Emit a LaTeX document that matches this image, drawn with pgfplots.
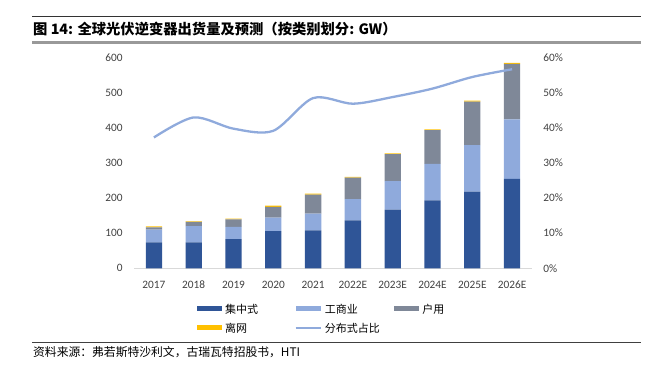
\documentclass[border=0pt]{standalone}
\usepackage{pgfplots}
\pgfplotsset{compat=1.18}
\usepackage{fontspec}
\setmainfont{Carlito}
\newfontfamily\cjk{Noto Sans CJK SC}
\definecolor{cA}{HTML}{2F5597}
\definecolor{cB}{HTML}{8FAADC}
\definecolor{cC}{HTML}{7F8898}
\definecolor{cD}{HTML}{FFC000}
\definecolor{tk}{HTML}{404040}
\definecolor{bl}{HTML}{D9D9D9}
\pgfplotsset{
  barleg/.style={legend image code/.code={\fill[##1, draw=none] (0pt,-2.7pt) rectangle (25pt,2.7pt);}},
  lineleg/.style={legend image code/.code={\draw[##1] (0pt,0pt) -- (25pt,0pt);}},
}
\newcommand\lgd[1]{\makebox[69.5pt][l]{\cjk\fontsize{11}{13}\selectfont\rule[-3pt]{0pt}{14.4pt}#1}}
\begin{document}
\begin{tikzpicture}[x=1pt,y=1pt]
\useasboundingbox (0,0) rectangle (646,379);
\draw[color=black!80, line width=0.8pt] (32,362.3) -- (641,362.3);
\node[anchor=west, inner sep=0pt, font=\cjk\bfseries\fontsize{14.3}{16}\selectfont] at (33,350) {图 14: 全球光伏逆变器出货量及预测（按类别划分: GW）};
\draw[color=black!40, line width=2.5pt] (32,336.3) -- (641,336.3);
\begin{axis}[at={(134pt,110.7pt)}, anchor=south west, scale only axis, width=398pt, height=211pt,
  xmin=-0.5, xmax=9.5, ymin=0, ymax=600,
  ybar stacked, bar width=16.3pt,
  axis x line*=bottom, axis y line*=left,
  x axis line style={draw=bl, line width=0.8pt, -},
  y axis line style={draw=none},
  tick style={draw=none}, major tick length=0pt,
  xtick={0,...,9}, xticklabels={2017,2018,2019,2020,2021,2022E,2023E,2024E,2025E,2026E},
  ytick={0,100,...,600},
  /pgf/number format/assume math mode=true,
  tick label style={font=\fontsize{11.3}{13}\selectfont, text=tk},
  x tick label style={anchor=north, inner sep=0pt, yshift=-12.5pt},
  y tick label style={anchor=east, inner sep=0pt, xshift=-11.3pt},
]
\addplot[fill=cA, draw=none] coordinates {(0,74) (1,74) (2,83) (3,106) (4,108) (5,136.5) (6,167) (7,193) (8,218) (9,254)};
\addplot[fill=cB, draw=none] coordinates {(0,36) (1,46) (2,34.5) (3,38) (4,47.5) (5,60.5) (6,81) (7,104) (8,132.5) (9,169.5)};
\addplot[fill=cC, draw=none] coordinates {(0,6.5) (1,12) (2,21.5) (3,31) (4,54) (5,61) (6,77) (7,96) (8,123.5) (9,157.5)};
\addplot[fill=cD, draw=none] coordinates {(0,2.5) (1,1.5) (2,2.5) (3,3.5) (4,2.5) (5,2) (6,2) (7,2) (8,3) (9,3)};
\end{axis}
\begin{axis}[at={(134pt,110.7pt)}, anchor=south west, scale only axis, width=398pt, height=211pt,
  xmin=-0.5, xmax=9.5, ymin=0, ymax=60,
  hide x axis, axis y line*=right,
  y axis line style={draw=none},
  tick style={draw=none}, major tick length=0pt,
  ytick={0,10,...,60},
  /pgf/number format/assume math mode=true,
  yticklabel={\pgfmathprintnumber{\tick}\%},
  tick label style={font=\fontsize{11.3}{13}\selectfont, text=tk},
  y tick label style={anchor=west, inner sep=0pt, xshift=11.3pt},
  legend columns=3, legend cell align=left,
  legend style={draw=none, fill=none, inner sep=0pt, outer sep=0pt,
    at={(0.1583,-0.1588)}, anchor=north west, row sep=6.6pt,
    /tikz/every odd column/.append style={column sep=3pt},
    nodes={inner sep=0pt}},
]
\addlegendimage{barleg, fill=cA}\addlegendentry{\lgd{集中式}}
\addlegendimage{barleg, fill=cB}\addlegendentry{\lgd{工商业}}
\addlegendimage{barleg, fill=cC}\addlegendentry{\lgd{户用}}
\addlegendimage{barleg, fill=cD}\addlegendentry{\lgd{离网}}
\addplot[smooth, color=cB, line width=2.3pt, lineleg] coordinates {(0,37.2) (1,42.9) (2,39.7) (3,39.1) (4,48.4) (5,46.8) (6,48.7) (7,51.1) (8,54.4) (9,56.6)};
\addlegendentry{\lgd{分布式占比}}
\end{axis}
\draw[black!75, line width=0.8pt] (32,36.7) -- (641,36.7);
\node[anchor=west, inner sep=0pt, font=\cjk\fontsize{11.8}{13}\selectfont] at (33,26.5) {资料来源：弗若斯特沙利文，古瑞瓦特招股书，HTI};
\end{tikzpicture}
\end{document}
